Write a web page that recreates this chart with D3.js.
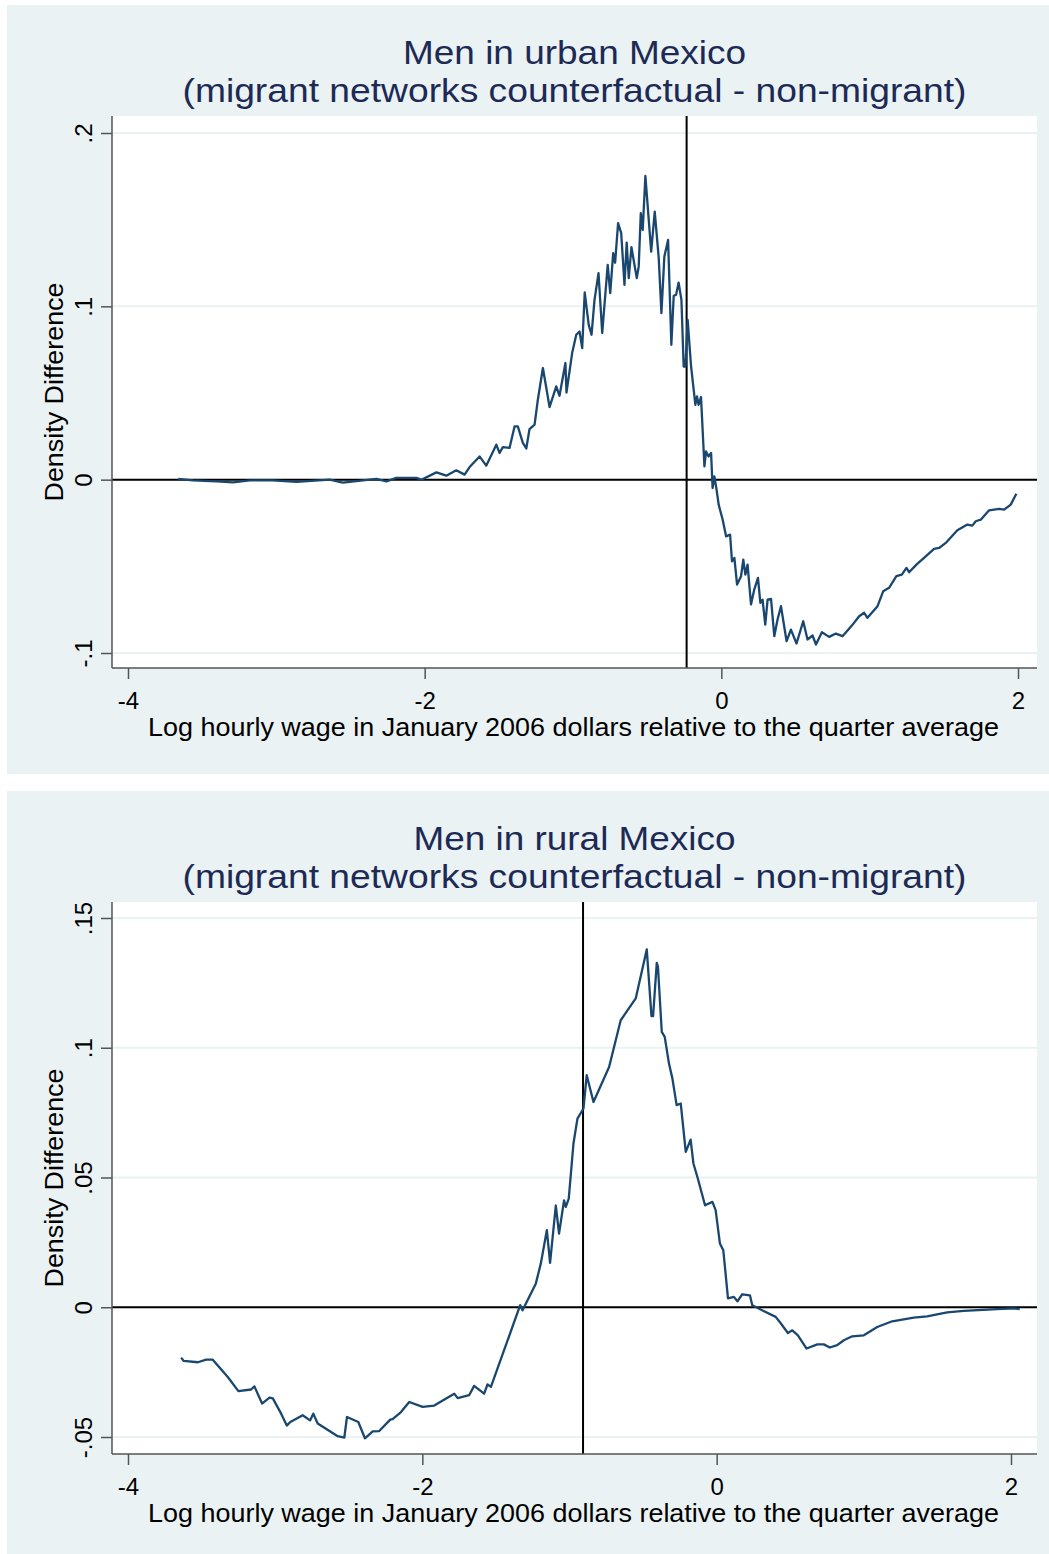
<!DOCTYPE html>
<html>
<head>
<meta charset="utf-8">
<script src="https://cdn.jsdelivr.net/npm/d3@7"></script>
<style>
  body { margin: 0; background: #fff; }
  svg { display: block; }
  text { font-family: "Liberation Sans", Arial, sans-serif; }
</style>
</head>
<body>
<div id="chart"></div>
<script>
// ---- data ----
// urban panel: log wage vs density difference
var urbanX = [-3.661,-3.562,-3.403,-3.293,-3.178,-3.024,-2.864,-2.640,-2.552,-2.325,
  -2.258,-2.191,-2.056,-2.022,-1.921,-1.854,-1.787,-1.731,-1.697,-1.630,
  -1.585,-1.517,-1.495,-1.473,-1.428,-1.394,-1.372,-1.338,-1.315,-1.293,
  -1.259,-1.237,-1.203,-1.158,-1.113,-1.091,-1.051,-1.044,-1.005,-0.978,
  -0.956,-0.938,-0.921,-0.894,-0.875,-0.855,-0.828,-0.803,-0.766,-0.749,
  -0.729,-0.716,-0.696,-0.675,-0.653,-0.638,-0.624,-0.606,-0.570,-0.557,
  -0.543,-0.530,-0.512,-0.473,-0.449,-0.422,-0.404,-0.384,-0.359,-0.337,
  -0.321,-0.305,-0.288,-0.269,-0.254,-0.242,-0.227,-0.204,-0.175,-0.164,
  -0.153,-0.137,-0.114,-0.103,-0.086,-0.069,-0.059,-0.047,-0.032,-0.018,
  0.009,0.032,0.059,0.072,0.088,0.106,0.133,0.148,0.162,0.177,
  0.200,0.222,0.247,0.263,0.278,0.296,0.312,0.335,0.357,0.379,
  0.402,0.440,0.469,0.507,0.552,0.581,0.615,0.638,0.678,0.727,
  0.772,0.817,0.880,0.929,0.963,0.985,1.053,1.091,1.131,1.180,
  1.217,1.248,1.266,1.315,1.378,1.434,1.468,1.513,1.591,1.659,
  1.692,1.715,1.749,1.805,1.872,1.906,1.951,1.989];
var urbanY = [0.0004,-0.0004,-0.001,-0.0016,-0.0004,-0.0004,-0.0013,0,-0.0017,0.0004,
  -0.001,0.001,0.001,0,0.0042,0.0023,0.0054,0.0029,0.0073,0.0134,
  0.0081,0.0202,0.0154,0.0188,0.0183,0.0307,0.0307,0.0212,0.0180,0.0292,
  0.0317,0.0461,0.0644,0.0419,0.0538,0.0484,0.0673,0.0503,0.0734,0.0836,
  0.0855,0.0759,0.1080,0.0893,0.0836,0.1037,0.1191,0.0846,0.1239,0.1076,
  0.1307,0.1252,0.1480,0.1422,0.1124,0.1368,0.1163,0.1341,0.1163,0.1229,
  0.1537,0.1441,0.1752,0.1316,0.1546,0.1278,0.0961,0.1288,0.1383,0.0778,
  0.1061,0.1066,0.1137,0.1037,0.0653,0.0653,0.0922,0.0653,0.0432,0.0480,
  0.0432,0.0477,0.0077,0.0163,0.0134,0.0154,-0.0048,0.0019,-0.0058,-0.0144,
  -0.0231,-0.0327,-0.0317,-0.0471,-0.0451,-0.0605,-0.0557,-0.0461,-0.0548,-0.0490,
  -0.0720,-0.0634,-0.0567,-0.0711,-0.0692,-0.0836,-0.0692,-0.0688,-0.0903,-0.0807,
  -0.0730,-0.0932,-0.0865,-0.0945,-0.0817,-0.0922,-0.0899,-0.0951,-0.0880,-0.0907,
  -0.0888,-0.0903,-0.0842,-0.0788,-0.0768,-0.0797,-0.0730,-0.0644,-0.0624,-0.0557,
  -0.0548,-0.0509,-0.0534,-0.0490,-0.0442,-0.0399,-0.0394,-0.0365,-0.0292,-0.0259,
  -0.0265,-0.0240,-0.0231,-0.0177,-0.0169,-0.0173,-0.0144,-0.0081];

// rural panel
var ruralX = [-3.639,-3.621,-3.525,-3.469,-3.424,-3.322,-3.250,-3.164,-3.141,-3.089,
  -3.039,-3.016,-2.965,-2.921,-2.897,-2.813,-2.763,-2.741,-2.711,-2.575,
  -2.530,-2.512,-2.435,-2.390,-2.337,-2.293,-2.218,-2.202,-2.145,-2.089,
  -1.998,-1.919,-1.783,-1.760,-1.682,-1.648,-1.580,-1.557,-1.534,
  -1.335,-1.319,-1.229,-1.195,-1.154,-1.132,-1.093,-1.071,-1.037,-1.025,
  -1.005,-0.973,-0.946,-0.905,-0.883,-0.837,-0.731,-0.652,-0.550,-0.475,
  -0.443,-0.432,-0.407,-0.399,-0.373,-0.353,-0.324,-0.301,-0.272,-0.244,
  -0.210,-0.177,-0.158,-0.131,-0.079,-0.029,-0.007,0.022,0.045,0.077,
  0.117,0.141,0.174,0.226,0.242,0.299,0.401,0.434,0.484,0.514,
  0.552,0.611,0.684,0.728,0.769,0.819,0.864,0.921,1.000,1.091,
  1.193,1.339,1.430,1.566,1.679,1.906,2.018,2.059];
var ruralY = [-0.0194,-0.0207,-0.0212,-0.0202,-0.0202,-0.0269,-0.0323,-0.0317,-0.0305,-0.0371,
  -0.0348,-0.0351,-0.0404,-0.0456,-0.0442,-0.0416,-0.0436,-0.0410,-0.0448,-0.0497,
  -0.0502,-0.0423,-0.0442,-0.0505,-0.0478,-0.0477,-0.0433,-0.0431,-0.0404,-0.0365,
  -0.0384,-0.0379,-0.0333,-0.0350,-0.0339,-0.0303,-0.0333,-0.0297,-0.0307,
  0.0008,-0.0012,0.0091,0.0168,0.0297,0.0171,0.0392,0.0284,0.0412,0.0387,
  0.0419,0.0631,0.0727,0.0766,0.0894,0.0791,0.0926,0.1106,0.1190,0.1379,
  0.1122,0.1122,0.1327,0.1312,0.1061,0.1042,0.0939,0.0882,0.0779,0.0785,
  0.0599,0.0646,0.0554,0.0502,0.0393,0.0406,0.0374,0.0246,0.0220,0.0034,
  0.0040,0.0023,0.0050,0.0046,0.0008,-0.0009,-0.0037,-0.0061,-0.0099,-0.0089,
  -0.0108,-0.0159,-0.0143,-0.0143,-0.0155,-0.0146,-0.0127,-0.0112,-0.0108,-0.0076,
  -0.0054,-0.0040,-0.0035,-0.0020,-0.0014,-0.0007,-0.0004,-0.0007];

var xTicks = [-4, -2, 0, 2];
var xTickLabels = ["-4", "-2", "0", "2"];
var urbanYTicks = [-0.1, 0, 0.1, 0.2];
var urbanYTickLabels = ["-.1", "0", ".1", ".2"];
var ruralYTicks = [-0.05, 0, 0.05, 0.1, 0.15];
var ruralYTickLabels = ["-.05", "0", ".05", ".1", ".15"];

// vertical reference lines (log wage)
var urbanCutoff = -0.234;
var ruralCutoff = -0.908;

var urbanTitle = ["Men in urban Mexico", "(migrant networks counterfactual - non-migrant)"];
var ruralTitle = ["Men in rural Mexico", "(migrant networks counterfactual - non-migrant)"];
var yTitle = "Density Difference";
var xTitle = "Log hourly wage in January 2006 dollars relative to the quarter average";

// ---- layout ----
var W = 1049, H = 1554;
var bgColor = "#eaf2f3", lineColor = "#1a476f", titleColor = "#1c2a55";
var plot = {left: 112, right: 1037, top: 111, bottom: 663};

var svg = d3.select("#chart").append("svg")
    .attr("width", W)
    .attr("height", H);

function drawPanel(cfg) {
  var g = svg.append("g").attr("transform", "translate(0," + cfg.top + ")");

  // scales: tick values mapped onto their measured positions
  var x = d3.scaleLinear().domain([-4, 2]).range(cfg.xRange);
  var y = d3.scaleLinear().domain(d3.extent(cfg.yTicks)).range(cfg.yRange);

  g.append("rect")
      .attr("x", 7).attr("y", 0)
      .attr("width", W - 7).attr("height", 769)
      .attr("fill", bgColor);

  g.append("rect")
      .attr("x", plot.left).attr("y", plot.top)
      .attr("width", plot.right - plot.left).attr("height", plot.bottom - plot.top)
      .attr("fill", "#fff");

  // title (two lines)
  g.selectAll(".title").data(cfg.title).enter().append("text")
      .attr("class", "title")
      .attr("x", (plot.left + plot.right) / 2)
      .attr("y", function(d, i) { return 59 + i * 38; })
      .attr("text-anchor", "middle")
      .attr("fill", titleColor)
      .style("font-size", "33px")
      .attr("textLength", function(d, i) { return cfg.titleWidths[i]; })
      .attr("lengthAdjust", "spacingAndGlyphs")
      .text(function(d) { return d; });

  // gridlines
  g.selectAll(".grid").data(cfg.yTicks).enter().append("line")
      .attr("class", "grid")
      .attr("x1", plot.left).attr("x2", plot.right)
      .attr("y1", function(d) { return y(d); })
      .attr("y2", function(d) { return y(d); })
      .attr("stroke", bgColor)
      .attr("stroke-width", 2);

  // reference lines
  g.append("line")
      .attr("x1", plot.left).attr("x2", plot.right)
      .attr("y1", y(0)).attr("y2", y(0))
      .attr("stroke", "#000").attr("stroke-width", 2);
  g.append("line")
      .attr("x1", x(cfg.cutoff)).attr("x2", x(cfg.cutoff))
      .attr("y1", plot.top).attr("y2", plot.bottom)
      .attr("stroke", "#000").attr("stroke-width", 2);

  // the curve
  var pts = cfg.xs.map(function(d, i) { return [d, cfg.ys[i]]; });
  var valueline = d3.line()
      .x(function(d) { return x(d[0]); })
      .y(function(d) { return y(d[1]); });
  g.append("path")
      .datum(pts)
      .attr("fill", "none")
      .attr("stroke", lineColor)
      .attr("stroke-width", 2.3)
      .attr("stroke-linejoin", "round")
      .attr("d", valueline);

  // Y axis
  var yAxis = g.append("g")
      .attr("transform", "translate(" + plot.left + ",0)")
      .call(d3.axisLeft(y).tickValues(cfg.yTicks).tickSize(11).tickSizeOuter(0)
        .tickFormat(function(d, i) { return cfg.yTickLabels[i]; }));
  yAxis.select(".domain").remove();
  yAxis.selectAll(".tick line").attr("stroke", "#555").attr("stroke-width", 1.5);
  yAxis.selectAll(".tick text")
      .attr("x", 0).attr("y", -20).attr("dy", 0)
      .attr("transform", "rotate(-90)")
      .attr("text-anchor", "middle")
      .attr("fill", "#000")
      .style("font-size", "24px")
      .style("font-family", "Liberation Sans, Arial, sans-serif");
  g.append("line")
      .attr("x1", plot.left).attr("x2", plot.left)
      .attr("y1", plot.top).attr("y2", plot.bottom)
      .attr("stroke", "#555").attr("stroke-width", 1.5);

  // X axis
  var xAxis = g.append("g")
      .attr("transform", "translate(0," + plot.bottom + ")")
      .call(d3.axisBottom(x).tickValues(xTicks).tickSize(11).tickSizeOuter(0)
        .tickFormat(function(d, i) { return xTickLabels[i]; }));
  xAxis.select(".domain").remove();
  xAxis.selectAll(".tick line").attr("stroke", "#555").attr("stroke-width", 1.5);
  xAxis.selectAll(".tick text")
      .attr("y", 41).attr("dy", 0)
      .attr("fill", "#000")
      .style("font-size", "24px")
      .style("font-family", "Liberation Sans, Arial, sans-serif");
  g.append("line")
      .attr("x1", plot.left).attr("x2", plot.right)
      .attr("y1", plot.bottom).attr("y2", plot.bottom)
      .attr("stroke", "#555").attr("stroke-width", 1.5);

  // axis titles
  g.append("text")
      .attr("transform", "translate(63," + (plot.top + plot.bottom) / 2 + ") rotate(-90)")
      .attr("text-anchor", "middle")
      .style("font-size", "26px")
      .attr("textLength", 219)
      .attr("lengthAdjust", "spacingAndGlyphs")
      .text(yTitle);
  g.append("text")
      .attr("x", 573.5).attr("y", 731)
      .attr("text-anchor", "middle")
      .style("font-size", "26px")
      .attr("textLength", 851)
      .attr("lengthAdjust", "spacingAndGlyphs")
      .text(xTitle);
}

drawPanel({
  top: 5,
  title: urbanTitle, titleWidths: [343, 784],
  xs: urbanX, ys: urbanY,
  yTicks: urbanYTicks, yTickLabels: urbanYTickLabels,
  xRange: [128, 1018], yRange: [648, 128],
  cutoff: urbanCutoff
});

drawPanel({
  top: 791,
  title: ruralTitle, titleWidths: [322, 784],
  xs: ruralX, ys: ruralY,
  yTicks: ruralYTicks, yTickLabels: ruralYTickLabels,
  xRange: [128, 1011], yRange: [646, 127],
  cutoff: ruralCutoff
});
</script>
</body>
</html>
